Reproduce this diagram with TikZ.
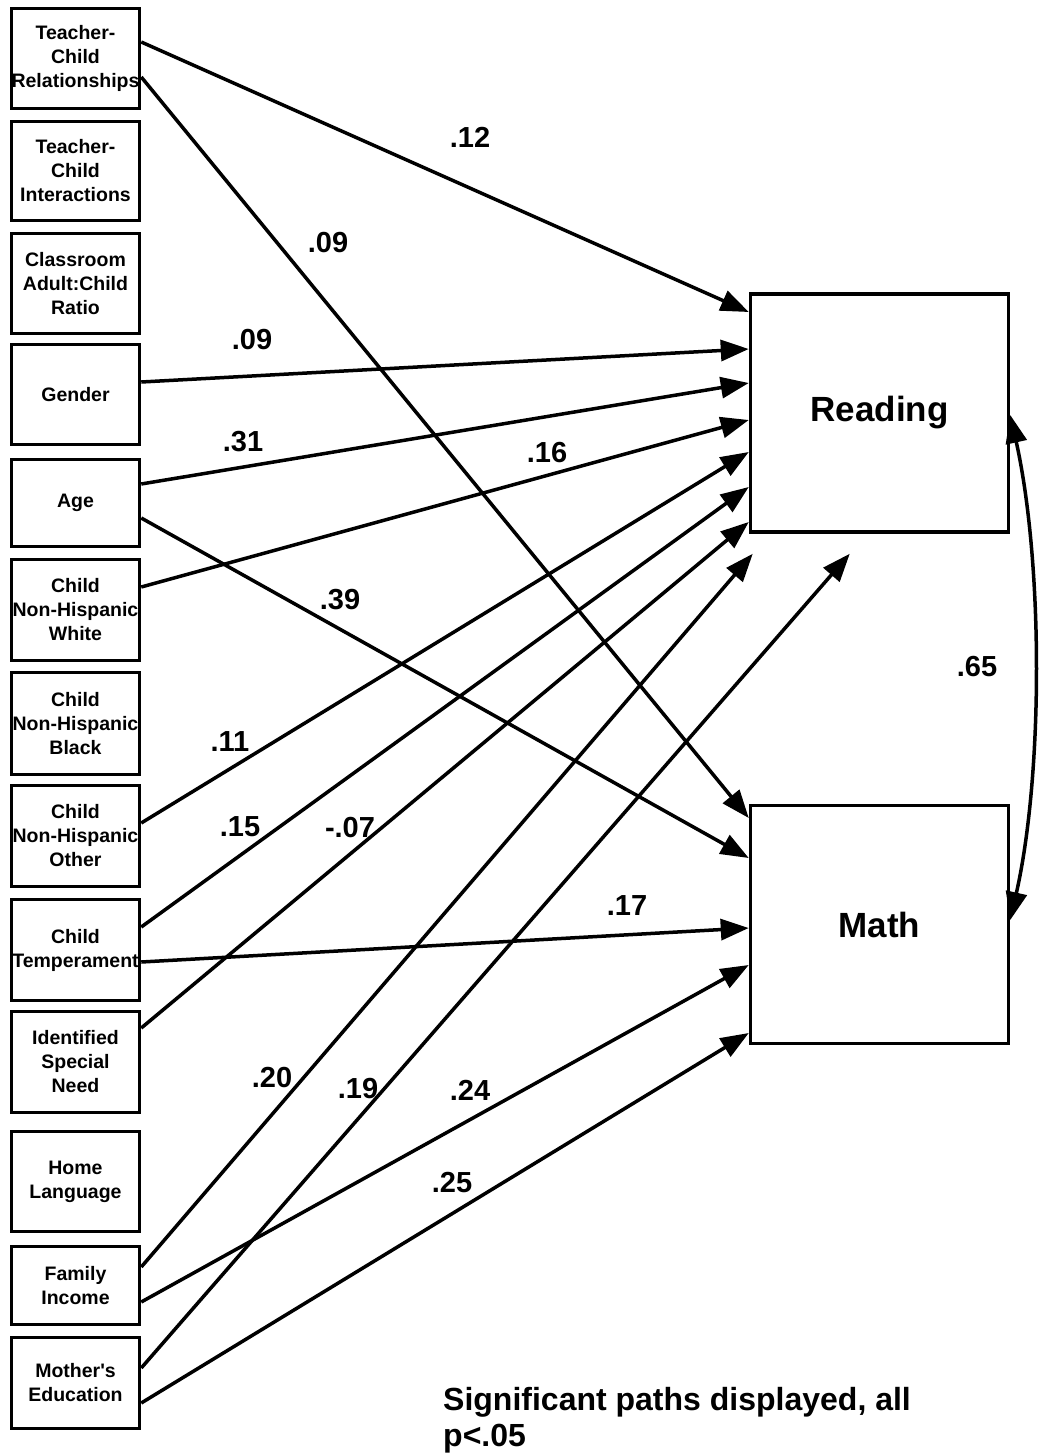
\documentclass[tikz,border=0pt]{standalone}
\usepackage{fontspec}
\setmainfont{Liberation Sans}[Ligatures=TeXOff]
\usetikzlibrary{arrows.meta}
\begin{document}
\begin{tikzpicture}[x=1pt,y=-1pt,
  var/.style={draw, line width=3.5pt, minimum width=128pt, inner sep=0pt, align=center,
              font=\bfseries\fontsize{19.5}{24}\selectfont},
  outcome/.style={draw, line width=3.5pt, minimum width=258pt, minimum height=238pt,
              font=\bfseries\fontsize{35}{40}\selectfont},
  headtip/.tip={Triangle[length=28pt,width=21pt]},
  effect/.style={line width=3.5pt, -headtip},
  coef/.style={font=\bfseries\fontsize{29}{34}\selectfont, inner sep=0pt},
]
\useasboundingbox (0,0) rectangle (1039,1456);

% predictors
\node[var, minimum height=100pt] (tcr)   at (75.5,58.5)   {Teacher-\\Child\\Relationships};
\node[var, minimum height=99pt]  (tci)   at (75.5,171)    {Teacher-\\Child\\Interactions};
\node[var, minimum height=100pt] (ratio) at (75.5,283.5)  {Classroom\\Adult:Child\\Ratio};
\node[var, minimum height=100pt] (gen)   at (75.5,394.5)  {Gender};
\node[var, minimum height=87pt]  (age)   at (75.5,503)    {Age};
\node[var, minimum height=101pt] (white) at (75.5,610)    {Child\\Non-Hispanic\\White};
\node[var, minimum height=102pt] (black) at (75.5,723.5)  {Child\\Non-Hispanic\\Black};
\node[var, minimum height=101pt] (other) at (75.5,836)    {Child\\Non-Hispanic\\Other};
\node[var, minimum height=101pt] (temp)  at (75.5,950)    {Child\\Temperament};
\node[var, minimum height=101pt] (isn)   at (75.5,1062)   {Identified\\Special\\Need};
\node[var, minimum height=100pt] (lang)  at (75.5,1181.5) {Home\\Language};
\node[var, minimum height=78pt]  (inc)   at (75.5,1285.5) {Family\\Income};
\node[var, minimum height=91pt]  (med)   at (75.5,1383)   {Mother's\\Education};

% outcomes
\node[outcome] (rd) at (879.5,413)   {Reading};
\node[outcome] (mt) at (879.5,924.5) {Math};

% free ends just below the Reading box
\coordinate (tipA) at ([xshift=4pt,yshift=-20pt]rd.south west);
\coordinate (tipB) at ([xshift=101pt,yshift=-20pt]rd.south west);

% paths
\draw[effect] ([yshift=16.5pt]tcr.east)  -- ([yshift=101pt]rd.west);
\draw[effect] ([yshift=-18.5pt]tcr.east) -- ([yshift=106.5pt]mt.west);
\draw[effect] ([yshift=12.5pt]gen.east)  -- ([yshift=64pt]rd.west);
\draw[effect] ([yshift=19pt]age.east)    -- ([yshift=30pt]rd.west);
\draw[effect] ([yshift=-15pt]age.east)   -- ([yshift=66.5pt]mt.west);
\draw[effect] ([yshift=23pt]white.east)  -- ([yshift=-7pt]rd.west);
\draw[effect] ([yshift=13pt]other.east)  -- ([yshift=-39pt]rd.west);
\draw[effect] ([yshift=23pt]temp.east)   -- ([yshift=-74pt]rd.west);
\draw[effect] ([yshift=-12pt]temp.east)  -- ([yshift=-3.5pt]mt.west);
\draw[effect] ([yshift=34pt]isn.east)    -- ([yshift=-109pt]rd.west);
\draw[effect] ([yshift=18.5pt]inc.east)  -- (tipA);
\draw[effect] ([yshift=-16.5pt]inc.east) -- ([yshift=-40.5pt]mt.west);
\draw[effect] ([yshift=15pt]med.east)    -- (tipB);
\draw[effect] ([yshift=-20pt]med.east)   -- ([yshift=-108.5pt]mt.west);

% correlation between outcomes
\draw[line width=3.5pt, headtip-headtip]
  ([yshift=-2pt]rd.east) .. controls ([xshift=33pt,yshift=-150pt]rd.east)
  and ([xshift=33pt,yshift=150pt]mt.east) .. ([yshift=4.5pt]mt.east);

% coefficients
\node[coef] (c1)  at (470,137)  {.12};
\node[coef] (c2)  at (328,243)  {.09};
\node[coef] (c3)  at (252,340)  {.09};
\node[coef] (c4)  at (243,442)  {.31};
\node[coef] (c5)  at (547,453)  {.16};
\node[coef] (c6)  at (340,600)  {.39};
\node[coef] (c7)  at (230,742)  {.11};
\node[coef] (c8)  at (240,827)  {.15};
\node[coef] (c9)  at (350,828)  {-.07};
\node[coef] (c10) at (627,906)  {.17};
\node[coef] (c11) at (272,1078) {.20};
\node[coef] (c12) at (358,1089) {.19};
\node[coef] (c13) at (470,1090) {.24};
\node[coef] (c14) at (452,1183) {.25};
\node[coef] (c15) at (977,667)  {.65};

% note
\node[anchor=north west, inner sep=0pt, align=left,
      font=\bfseries\fontsize{32}{36}\selectfont] (note) at (443,1387)
  {Significant paths displayed, all\\p<.05};
\end{tikzpicture}
\end{document}
